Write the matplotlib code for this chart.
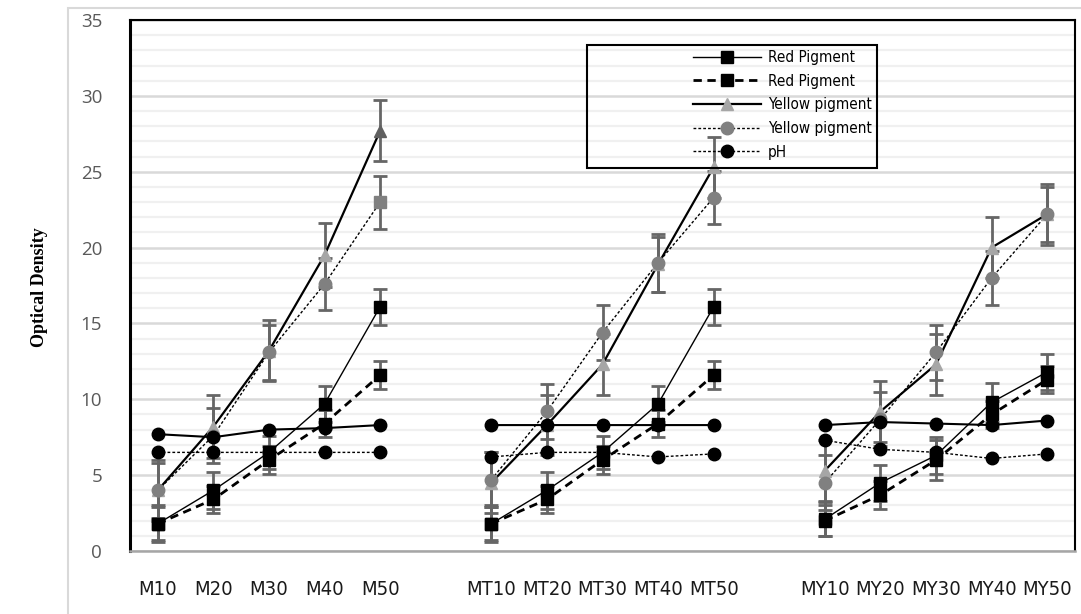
import numpy as np
import matplotlib
matplotlib.use("Agg")
import matplotlib.pyplot as plt
from matplotlib.patches import Rectangle
from matplotlib.lines import Line2D
from matplotlib import font_manager as fm

N = np.nan
categories = ['M10', 'M20', 'M30', 'M40', 'M50', '',
              'MT10', 'MT20', 'MT30', 'MT40', 'MT50', '',
              'MY10', 'MY20', 'MY30', 'MY40', 'MY50']

red_solid = [1.8, 4.0, 6.5, 9.7, 16.1, N, 1.8, 4.0, 6.5, 9.7, 16.1, N, 2.1, 4.5, 6.3, 9.8, 11.8]
red_solid_err = [1.1, 1.2, 1.1, 1.2, 1.2, N, 1.1, 1.2, 1.1, 1.2, 1.2, N, 1.1, 1.2, 1.2, 1.3, 1.2]
red_dashed = [1.8, 3.4, 6.0, 8.4, 11.6, N, 1.8, 3.4, 6.0, 8.4, 11.6, N, 2.0, 3.7, 6.0, 9.0, 11.3]
red_dashed_err = [1.2, 0.9, 0.9, 0.9, 0.95, N, 1.2, 0.9, 0.9, 0.9, 0.95, N, 1.0, 0.9, 1.3, 0.9, 0.9]
yellow_solid = [4.0, 8.2, 13.2, 19.5, 27.7, N, 4.5, 8.3, 12.3, 18.9, 25.3, N, 5.3, 9.2, 12.3, 20.0, 22.2]
yellow_solid_err = [2.0, 2.1, 2.0, 2.1, 2.0, N, 2.0, 2.0, 2.0, 1.8, 2.0, N, 2.0, 2.0, 2.0, 2.0, 2.0]
yellow_dotted = [4.0, 7.6, 13.1, 17.6, 23.0, N, 4.7, 9.2, 14.4, 19.0, 23.3, N, 4.5, 8.7, 13.1, 18.0, 22.2]
yellow_dotted_err = [1.8, 1.8, 1.8, 1.7, 1.75, N, 1.8, 1.8, 1.8, 1.9, 1.75, N, 1.8, 1.8, 1.8, 1.8, 1.8]
ph_solid = [7.7, 7.5, 8.0, 8.1, 8.3, N, 8.3, 8.3, 8.3, 8.3, 8.3, N, 8.3, 8.5, 8.4, 8.3, 8.6]
ph_dotted = [6.5, 6.5, 6.5, 6.5, 6.5, N, 6.2, 6.5, 6.5, 6.2, 6.4, N, 7.3, 6.7, 6.5, 6.1, 6.4]

legend_labels = ['Red Pigment', 'Red Pigment', 'Yellow pigment', 'Yellow pigment', 'pH']

# pick a narrow font if one is installed
names = {f.name for f in fm.fontManager.ttflist}
cond_dejavu = any(f.name == 'DejaVu Sans' and f.stretch in ('condensed', 'semi-condensed')
                  for f in fm.fontManager.ttflist)
if 'Liberation Sans Narrow' in names:
    narrow_prop = dict(family='Liberation Sans Narrow')
    leg_size, xt_size = 14, 15.5
elif 'DejaVu Sans Condensed' in names:
    narrow_prop = dict(family='DejaVu Sans Condensed')
    leg_size, xt_size = 11, 14.5
elif cond_dejavu:
    narrow_prop = dict(family='DejaVu Sans', stretch='condensed')
    leg_size, xt_size = 11, 14.5
else:
    narrow_prop = dict(family='Liberation Sans')
    leg_size, xt_size = 11, 14

fig = plt.figure(figsize=(10.81, 6.14), dpi=100)
ax = fig.add_axes([130/1081, 1-551/614, 945/1081, 531/614])

# outer chart border
fig.patches.append(Rectangle((68/1081, -0.1), 1.0, 1.1 - 8/614,
                             transform=fig.transFigure, fill=False,
                             edgecolor='#d9d9d9', lw=1.5, zorder=0))

x = np.arange(len(categories))
err_kw = dict(ecolor='#666666', elinewidth=2.0, capsize=5, capthick=2.0)
idx_main = [0, 1, 2, 3, 6, 7, 8, 9, 10, 12, 13, 14, 15, 16]

# yellow solid (triangles)
ys = np.array(yellow_solid)
ax.errorbar(x, ys, yerr=yellow_solid_err, fmt='none', zorder=2, **err_kw)
ax.plot(x, ys, color='black', lw=1.6, zorder=3)
ax.plot(x[idx_main], ys[idx_main], ls='none', marker='^', ms=9, color='#a6a6a6', zorder=4)
ax.plot(x[4:5], ys[4:5], ls='none', marker='^', ms=9, color='#606060', zorder=4)

# yellow dotted (circles)
yd = np.array(yellow_dotted)
ax.errorbar(x, yd, yerr=yellow_dotted_err, fmt='none', zorder=2, **err_kw)
ax.plot(x, yd, color='black', lw=1.0, ls=(0, (2, 1.5)), zorder=3)
ax.plot(x[idx_main], yd[idx_main], ls='none', marker='o', ms=9, color='#808080', zorder=5)
ax.plot(x[4:5], yd[4:5], ls='none', marker='s', ms=9, color='#808080', zorder=5)

# pH
ax.plot(x, ph_solid, color='black', lw=1.5, marker='o', ms=9, zorder=6)
ax.plot(x, ph_dotted, color='black', lw=1.0, ls=(0, (2, 1.5)), marker='o', ms=9, zorder=6)

# red pigments
ax.errorbar(x, red_solid, yerr=red_solid_err, fmt='none', zorder=2, **err_kw)
ax.errorbar(x, red_dashed, yerr=red_dashed_err, fmt='none', zorder=2, **err_kw)
ax.plot(x, red_solid, color='black', lw=1.0, marker='s', ms=9, zorder=7)
ax.plot(x, red_dashed, color='black', lw=2.0, ls=(0, (3, 2)), marker='s', ms=9, zorder=7)

ax.set_xlim(-0.5, len(categories) - 0.5)
ax.set_ylim(0, 35)
ax.set_yticks(np.arange(0, 36, 5))
ax.set_yticks(np.arange(0, 36, 1), minor=True)
ax.set_xticks(x)
ax.set_xticklabels(categories, fontsize=xt_size, color='#1a1a1a', **narrow_prop)
ax.tick_params(axis='x', length=0, pad=21)
ax.tick_params(axis='y', which='both', length=0, pad=20, labelsize=13.5, labelcolor='#595959')
for lab in ax.get_yticklabels():
    lab.set_family(['Open Sans', 'DejaVu Sans'])
ax.grid(axis='y', which='major', color='#d9d9d9', lw=1.8, zorder=0)
ax.grid(axis='y', which='minor', color='#f0f0f0', lw=1.6, zorder=0)
ax.set_axisbelow(True)

ax.spines['left'].set_linewidth(2.2)
for s in ['top', 'right']:
    ax.spines[s].set_linewidth(1.5)
ax.spines['bottom'].set_color('#a6a6a6')
ax.spines['bottom'].set_linewidth(1.8)

fig.text(40/1081, 1-287/614, 'Optical Density', rotation=90, ha='center', va='center',
         fontsize=13, fontweight='bold', family=['Liberation Serif', 'DejaVu Serif'])

# legend
handles = [
    Line2D([], [], color='black', lw=1.0, marker='s', ms=9),
    Line2D([], [], color='black', lw=2.0, ls=(0, (3, 2)), marker='s', ms=9),
    Line2D([], [], color='black', lw=1.6, marker='^', ms=9, markerfacecolor='#a6a6a6', markeredgecolor='#a6a6a6'),
    Line2D([], [], color='black', lw=1.0, ls=(0, (2, 1.5)), marker='o', ms=9, markerfacecolor='#808080', markeredgecolor='#808080'),
    Line2D([], [], color='black', lw=1.0, ls=(0, (2, 1.5)), marker='o', ms=9),
]
prop = dict(size=leg_size)
prop.update(narrow_prop)
leg = ax.legend(handles, legend_labels, loc='upper left',
                bbox_to_anchor=((693-130)/945, (551-50)/531), borderaxespad=0, borderpad=0,
                frameon=False, handlelength=68/(leg_size*100/72), handletextpad=0.45,
                labelspacing=0.57, prop=prop)
ax.add_patch(Rectangle(((587-130)/945, (551-168)/531), (877-587)/945, (168-45)/531,
                       transform=ax.transAxes, fill=False, edgecolor='black', lw=1.5, zorder=8))

fig.savefig('out.png', dpi=100)
